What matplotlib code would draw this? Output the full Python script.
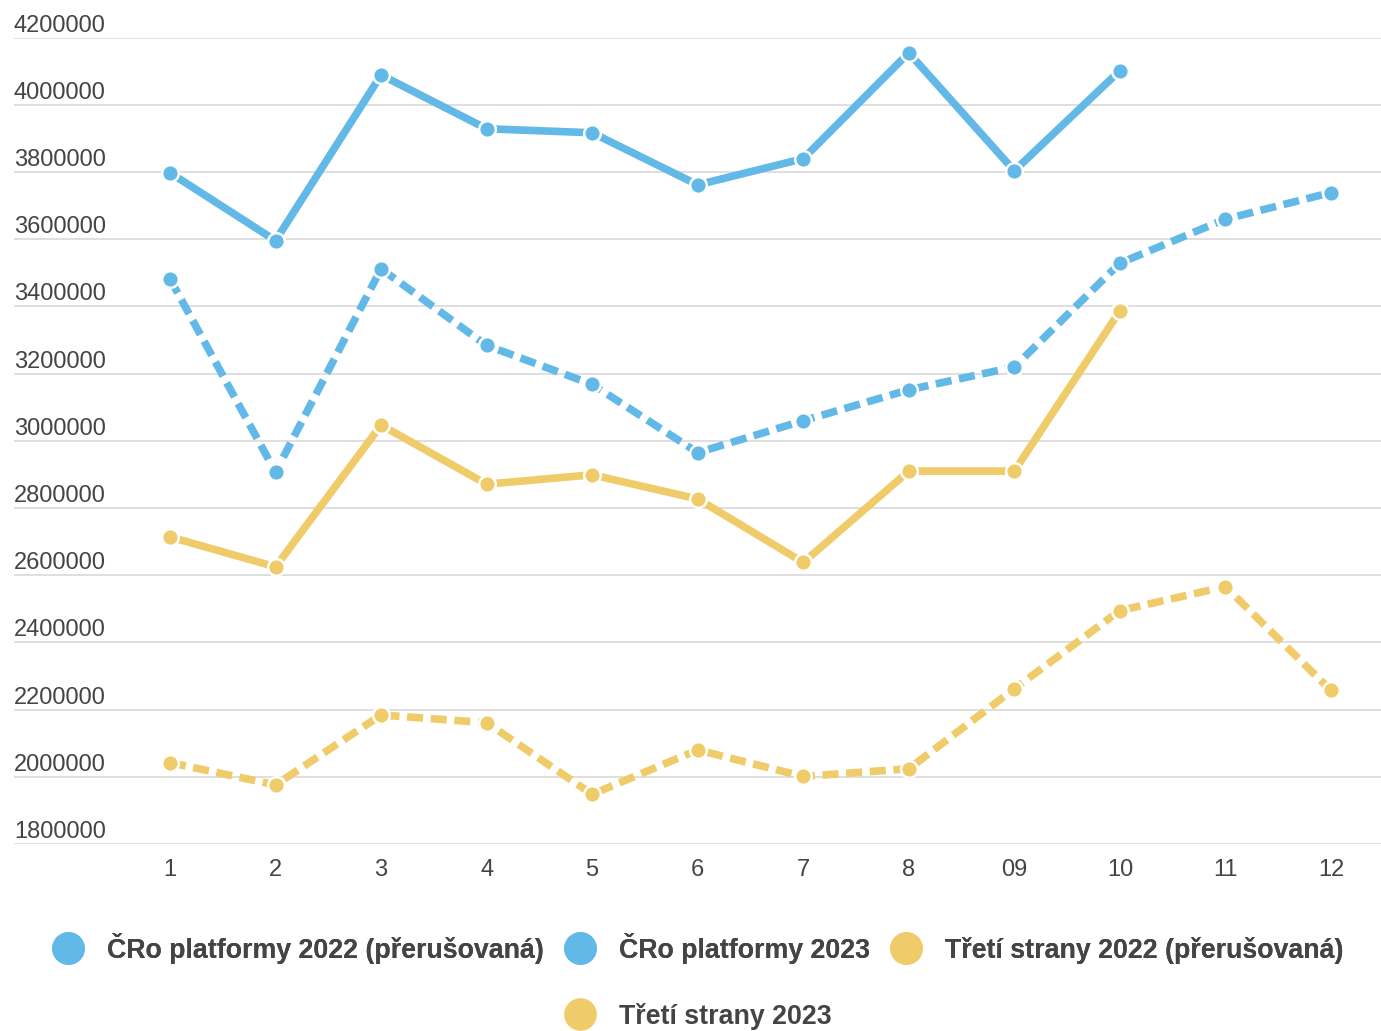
"""
Monthly reach: ČRo platforms vs third-party platforms, 2022 (dashed) and 2023 (solid).
"""

import matplotlib

matplotlib.use("Agg")
import matplotlib.pyplot as plt
from matplotlib.lines import Line2D
from matplotlib.transforms import blended_transform_factory, offset_copy

plt.rcParams["font.family"] = ["Liberation Sans", "DejaVu Sans"]

months = list(range(1, 13))
month_labels = ["1", "2", "3", "4", "5", "6", "7", "8", "09", "10", "11", "12"]

cro_2022 = [3482000, 2907000, 3512000, 3284000, 3168000, 2965000,
            3060000, 3152000, 3220000, 3529000, 3660000, 3739000]
cro_2023 = [3798000, 3596000, 4089000, 3929000, 3917000, 3762000,
            3840000, 4155000, 3804000, 4102000]
third_2022 = [2042000, 1976000, 2184000, 2161000, 1948000, 2080000,
              2001000, 2024000, 2262000, 2495000, 2566000, 2257000]
third_2023 = [2714000, 2625000, 3047000, 2871000, 2899000, 2827000,
              2638000, 2910000, 2910000, 3387000]

y_ticks = list(range(1800000, 4200001, 200000))

series_labels = [
    "ČRo platformy 2022 (přerušovaná)",
    "ČRo platformy 2023",
    "Třetí strany 2022 (přerušovaná)",
    "Třetí strany 2023",
]

BLUE = "#62b8e6"
YELLOW = "#f0cb69"
TEXT = "#444444"
GRID = "#d9d9d9"

W, H = 1381, 1031
fig = plt.figure(figsize=(W / 100, H / 100), dpi=100)
ax = fig.add_axes([14 / W, 187 / H, (W - 14) / W, 806.3 / H])


def draw(values, color, dashed):
    xs = months[: len(values)]
    ax.plot(
        xs,
        values,
        color=color,
        linewidth=5.5,
        linestyle=(0, (2.1, 1.0)) if dashed else "-",
        dash_capstyle="butt",
        solid_capstyle="round",
        marker="o",
        markersize=12,
        markerfacecolor=color,
        markeredgecolor="white",
        markeredgewidth=1.8,
        zorder=3,
    )


draw(cro_2022, BLUE, True)
draw(cro_2023, BLUE, False)
draw(third_2022, YELLOW, True)
draw(third_2023, YELLOW, False)

ax.set_xlim(-0.478, 12.474)
ax.set_ylim(y_ticks[0], y_ticks[-1])
for v in y_ticks:
    ax.axhline(v, color=GRID, linewidth=1.2, zorder=1)

# y labels sit above their grid lines, left-aligned
trans = offset_copy(
    blended_transform_factory(ax.transAxes, ax.transData), fig=fig, x=0, y=6, units="dots"
)
for v in y_ticks:
    ax.text(0, v, str(v), transform=trans, ha="left", va="baseline",
            fontsize=17, color=TEXT)

ax.set_yticks([])
ax.set_xticks(months, month_labels)
ax.tick_params(axis="x", length=0, pad=11, labelsize=17, labelcolor=TEXT)
for s in ax.spines.values():
    s.set_visible(False)


def handle(color):
    return Line2D([], [], linestyle="none", marker="o", markersize=22.5,
                  markerfacecolor=color, markeredgecolor=color)


handles = [handle(BLUE), handle(BLUE), handle(YELLOW), handle(YELLOW)]
leg_kw = dict(
    frameon=False,
    loc="center",
    handlelength=1.15,
    handletextpad=0.85,
    columnspacing=0.8,
    borderpad=0,
    borderaxespad=0,
    prop={"size": 19.3, "weight": "bold"},
    labelcolor=TEXT,
)
leg1 = fig.legend(handles[:3], series_labels[:3], ncol=3,
                  bbox_to_anchor=(0.5055, (H - 948) / H), **leg_kw)
fig.add_artist(leg1)
fig.legend(handles[3:], series_labels[3:], ncol=1,
           bbox_to_anchor=(0.5055, (H - 1016) / H), **leg_kw)

fig.savefig("out.png", dpi=100)
